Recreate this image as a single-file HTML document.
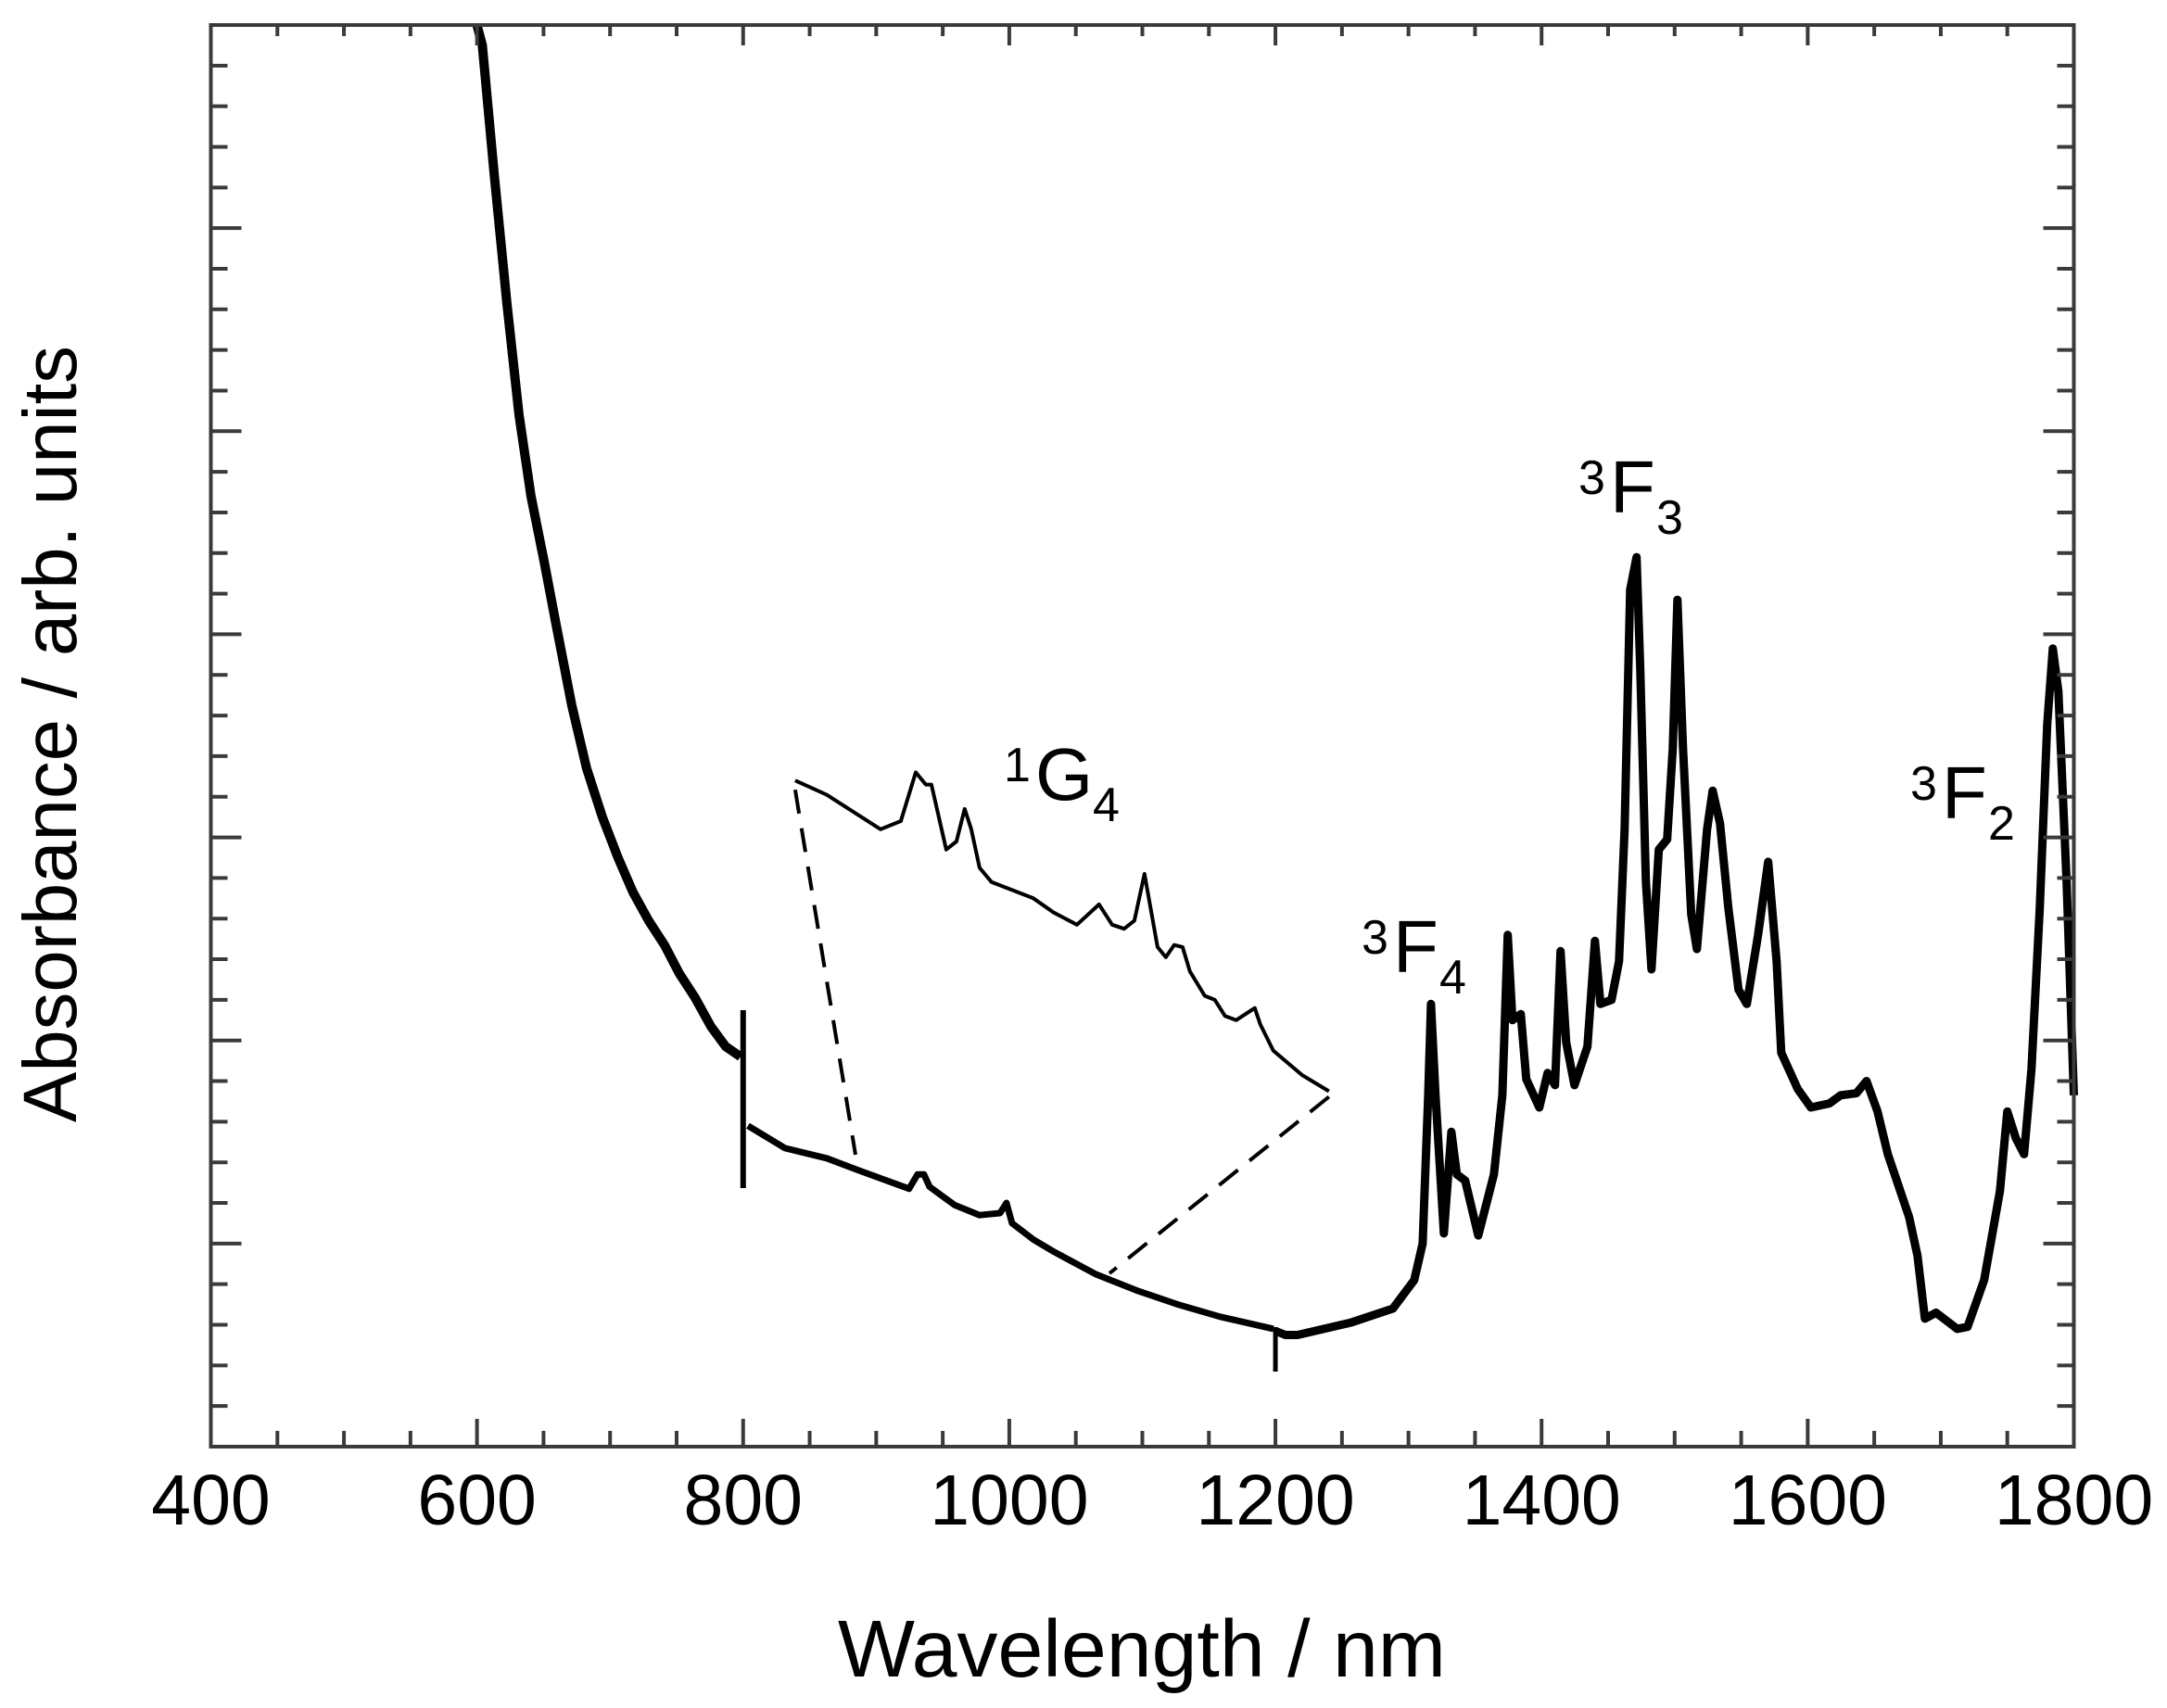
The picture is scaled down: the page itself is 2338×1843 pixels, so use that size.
<!DOCTYPE html>
<html><head><meta charset="utf-8"><style>
html,body{margin:0;padding:0;background:#fff;}
svg{display:block;font-family:"Liberation Sans",Arial,sans-serif;}
</style></head><body>
<svg id="chart" width="2338" height="1843" viewBox="0 0 2338 1843" xmlns="http://www.w3.org/2000/svg">
<rect x="0" y="0" width="2338" height="1843" fill="#fff"/>
<g id="marks"></g>
<g id="axes"></g>
<text x="1232" y="1809" font-size="87" text-anchor="middle" textLength="656" lengthAdjust="spacingAndGlyphs">Wavelength / nm</text>
<text transform="translate(82,792) rotate(-90)" font-size="82" text-anchor="middle" textLength="838" lengthAdjust="spacingAndGlyphs">Absorbance / arb. units</text>
</svg>
<script>
const xTicks = [400,600,800,1000,1200,1400,1600,1800];
const seg1X = [600,604,613,622.5,631.6,640.6,650.4,659.4,671.2,682.4,694.2,706,717.2,729,740.9,752,763.9,775.7,786.9,798];
const seg1Y = [7.0,6.9,6.26,5.63,5.08,4.68,4.36,4.05,3.65,3.34,3.10,2.90,2.73,2.59,2.47,2.33,2.21,2.07,1.97,1.92];
const seg2X = [803.6,831.4,862.8,887.1,924.7,931,935.9,940.1,946.3,958.9,977.7,993,997.9,1002.1,1018.1,1033.4,1064.7,1095.4,1126.7,1158.1,1198.5];
const seg2Y = [1.58,1.47,1.42,1.36,1.27,1.34,1.34,1.28,1.25,1.19,1.14,1.15,1.20,1.10,1.02,0.96,0.85,0.77,0.70,0.64,0.58];
const seg3X = [1200,1207.5,1216.6,1256.3,1288.3,1304.3,1310.6,1314.8,1316.9,1320.3,1326.6,1332.2,1336.3,1342.6,1352.4,1364.2,1370.5,1374.6,1378.1,1384.4,1388.5,1398.3,1404.5,1410.1,1414.3,1418.5,1424.7,1434.5,1440.1,1444.2,1452.6,1458.2,1462.4,1466.6,1471.4,1474.2,1478.4,1482.6,1488.1,1494.4,1498.6,1502.1,1506.3,1512.5,1516.7,1524.4,1528.6,1534.1,1540.4,1548,1554.3,1562.7,1570.3,1576.6,1580.1,1592.6,1602.4,1616.3,1624.7,1636.5,1644.2,1652.5,1660.2,1676.2,1682.5,1688.1,1696.4,1712.4,1720.1,1732.6,1744.5,1750,1756.3,1762.6,1768.2,1774.4,1780,1784.2,1788.4,1794.6,1800];
const seg3Y = [0.57,0.55,0.55,0.61,0.68,0.82,1.00,1.73,2.18,1.73,1.05,1.55,1.34,1.31,1.04,1.34,1.73,2.52,2.10,2.13,1.81,1.67,1.84,1.78,2.44,1.99,1.78,1.97,2.49,2.18,2.20,2.39,3.04,4.22,4.38,3.83,2.78,2.35,2.94,2.99,3.44,4.17,3.44,2.62,2.45,3.04,3.23,3.07,2.65,2.25,2.18,2.52,2.88,2.39,1.94,1.76,1.67,1.69,1.73,1.74,1.80,1.65,1.44,1.13,0.94,0.63,0.66,0.58,0.59,0.82,1.26,1.65,1.52,1.44,1.86,2.65,3.56,3.93,3.72,2.78,1.73];
const insetX = [839.1,862.8,903.2,918.5,929.7,937.3,941.5,952.6,960.3,966.5,971.4,977.7,986.7,1018.1,1033.4,1050.8,1067.5,1077.3,1086.3,1094,1101.6,1111.4,1117.6,1123.9,1130.2,1135.7,1146.9,1154.5,1162.2,1170.5,1184.5,1188.6,1198.4,1220,1240.2];
const insetY = [3.28,3.21,3.04,3.08,3.32,3.26,3.26,2.94,2.98,3.14,3.04,2.85,2.78,2.70,2.63,2.57,2.67,2.57,2.55,2.59,2.82,2.46,2.41,2.47,2.46,2.34,2.22,2.20,2.12,2.10,2.16,2.08,1.95,1.83,1.75];

const NS="http://www.w3.org/2000/svg";
const L=227.5,R=2237.5,T=27,B=1561;
const X=v=>L+(v-400)/1400*(R-L);
const Y=v=>B-v/7*(B-T);
const marks=document.getElementById('marks'), axes=document.getElementById('axes');
function mk(tag,attrs,parent){const e=document.createElementNS(NS,tag);for(const k in attrs)e.setAttribute(k,attrs[k]);parent.appendChild(e);return e;}
function poly(xs,ys){return xs.map((x,i)=>(i?'L':'M')+X(x).toFixed(1)+','+Y(ys[i]).toFixed(1)).join(' ');}
let p;
p=mk('path',{d:poly(seg1X,seg1Y),fill:'none',stroke:'#000','stroke-width':10,'stroke-linejoin':'round'},marks);


p=mk('path',{d:poly(seg2X,seg2Y),fill:'none',stroke:'#000','stroke-width':7,'stroke-linejoin':'round'},marks);


p=mk('path',{d:poly(seg3X,seg3Y),fill:'none',stroke:'#000','stroke-width':9,'stroke-linejoin':'round'},marks);


p=mk('path',{d:poly(insetX,insetY),fill:'none',stroke:'#000','stroke-width':4,'stroke-linejoin':'round'},marks);


p=mk('line',{x1:X(insetX[0]),y1:Y(insetY[0])+10,x2:923,y2:1246,stroke:'#000','stroke-width':4,'stroke-dasharray':'26,16'},marks);


p=mk('line',{x1:X(insetX[insetX.length-1]),y1:Y(insetY[insetY.length-1])+6,x2:1197,y2:1374,stroke:'#000','stroke-width':4,'stroke-dasharray':'26,16'},marks);


p=mk('line',{x1:X(800),y1:1090,x2:X(800),y2:1282,stroke:'#000','stroke-width':6},marks);


p=mk('line',{x1:X(1200),y1:1432,x2:X(1200),y2:1480,stroke:'#000','stroke-width':5},marks);


p=mk('rect',{x:L,y:T,width:R-L,height:B-T,fill:'none',stroke:'#3a3a3a','stroke-width':4},axes);


for(let v=450;v<1800;v+=50){
  const maj=v%200===0, x=X(v);
  p=mk('line',{x1:x,y1:B,x2:x,y2:B-(maj?30:17),stroke:'#3a3a3a','stroke-width':4},axes);
  
  
  p=mk('line',{x1:x,y1:T,x2:x,y2:T+(maj?22:12),stroke:'#3a3a3a','stroke-width':4},axes);
  
  
}
xTicks.forEach(v=>{
  const t=mk('text',{x:X(v),y:1645,'font-size':77,'text-anchor':'middle'},axes);
  t.textContent=v;
  
  
});
for(let i=1;i<35;i++){
  const maj=i%5===0, y=B-i*(B-T)/35;
  p=mk('line',{x1:L,y1:y,x2:L+(maj?33:18),y2:y,stroke:'#3a3a3a','stroke-width':4},axes);
  
  
  p=mk('line',{x1:R,y1:y,x2:R-(maj?33:18),y2:y,stroke:'#3a3a3a','stroke-width':4},axes);
  
  
}
function label(name,fx,fb,sup,main,sub){
  const g=mk('g',{},marks);
  
  
  const a=mk('text',{x:fx-34,y:fb-20,'font-size':52},g);a.textContent=sup;
  const b=mk('text',{x:fx,y:fb,'font-size':80},g);b.textContent=main;
  const c=mk('text',{x:fx+(main==='G'?62:50),y:fb+23,'font-size':52},g);c.textContent=sub;
}
label('label-1g4',1117,863,'1','G','4');
label('label-3f4',1503,1049,'3','F','4');
label('label-3f3',1737,553,'3','F','3');
label('label-3f2',2095,883,'3','F','2');
</script>
</body></html>
